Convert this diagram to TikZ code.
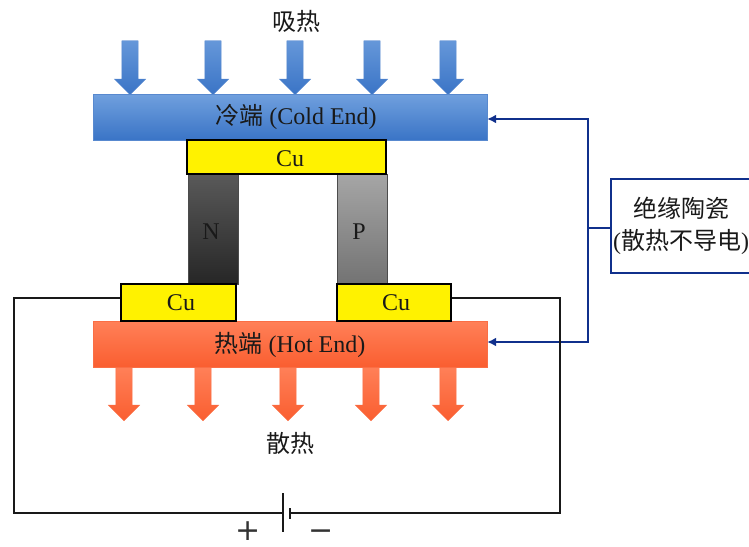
\documentclass[tikz,border=0pt]{standalone}
\usepackage{fontspec}
\usetikzlibrary{shapes.arrows,arrows.meta}
\setmainfont{Liberation Serif}
\newfontfamily\cjk{Noto Sans CJK SC}
\newfontfamily\signfont{DejaVu Sans}
\definecolor{coldtop}{RGB}{112,160,222}
\definecolor{coldbot}{RGB}{58,116,198}
\definecolor{hottop}{RGB}{255,128,88}
\definecolor{hotbot}{RGB}{250,94,48}
\definecolor{navyline}{RGB}{16,48,140}
\definecolor{wirecol}{RGB}{25,25,25}
\tikzset{
    labeltext/.style={font=\fontsize{24}{32}\selectfont, text=black!90},
    signtext/.style={font=\signfont\fontsize{30}{30}\selectfont, text=black!80, inner sep=0, anchor=base},
    coldplate/.style={draw=coldbot!85!white, top color=coldtop, bottom color=coldbot,
        minimum width=394, minimum height=46, inner sep=0},
    hotplate/.style={draw=hotbot!90!white, top color=hottop, bottom color=hotbot,
        minimum width=394, minimum height=46, inner sep=0},
    cubox/.style={draw=black, line width=1.2, fill=yellow, inner sep=0},
    leg/.style={draw=black!70, line width=0.8, minimum width=50, minimum height=110, inner sep=0},
    heatarrow/.style={single arrow, shape border rotate=270, anchor=tip, inner xsep=8, inner ysep=0,
        single arrow head extend=7.5, single arrow tip angle=90, minimum height=54},
    coldarrow/.style={heatarrow, draw=coldbot!85!white, top color=coldtop!80!coldbot, bottom color=coldbot},
    hotarrow/.style={heatarrow, draw=hotbot!90!white, top color=hottop, bottom color=hotbot},
    wire/.style={draw=wirecol, line width=1.1},
    insulate/.style={draw=navyline, line width=1.6},
    insulatearrow/.style={insulate, -{Latex[length=9,width=9]}}
}
\begin{document}
\begin{tikzpicture}[x=1pt,y=-1pt]
        \useasboundingbox (0,0) rectangle (749,546);
        \foreach \name/\px in {a/130,b/213,c/295,d/372,e/448}
            \node[coldarrow] (cold\name) at (\px,95) {};
        \foreach \name/\px in {a/124,b/203,c/288,d/371,e/448}
            \node[hotarrow] (hot\name) at (\px,421) {};
        \node[coldplate] (coldend) at (290,117) {};
        \node[labeltext] (coldlabel) at (296,117) {{\cjk 冷端} (Cold End)};
        \node[hotplate] (hotend) at (290,344) {};
        \node[labeltext] (hotlabel) at (290,345) {{\cjk 热端} (Hot End)};
        \node[leg, top color=black!65, bottom color=black!85] (legn) at (213,229) {};
        \node[leg, top color=black!35, bottom color=black!55] (legp) at (362,229) {};
        \node[labeltext] (nlabel) at (211,232) {N};
        \node[labeltext] (plabel) at (359,232) {P};
        \node[cubox, minimum width=199, minimum height=34] (cutop) at (286.5,157) {};
        \node[labeltext] (cutoplabel) at (290,159) {Cu};
        \node[cubox, minimum width=115, minimum height=37] (culeft) at (178.5,302.5) {};
        \node[labeltext] (culeftlabel) at (181,303) {Cu};
        \node[cubox, minimum width=114, minimum height=37] (curight) at (394,302.5) {};
        \node[labeltext] (curightlabel) at (396,303) {Cu};
        \node[labeltext] (absorb) at (296,21) {\cjk 吸热};
        \node[labeltext] (release) at (290,443) {\cjk 散热};
        \node[insulate, labeltext, draw, align=center, minimum width=140, minimum height=94, inner sep=0] (note) at (681,226)
            {{\cjk 绝缘陶瓷}\\({\cjk 散热不导电})};
        \coordinate (trunk) at (588,228);
        \coordinate (cornertop) at (588,119);
        \coordinate (cornerbot) at (588,342);
        \coordinate (wireleft) at (14,298);
        \coordinate (wireright) at (560,298);
        \coordinate (posplate) at (283,513);
        \coordinate (negplate) at (290,513);
        \coordinate (battleft) at (14,513);
        \coordinate (battright) at (560,513);
        \draw[insulate] (note.west |- trunk) -- (trunk);
        \draw[insulatearrow] (trunk) -- (cornertop) -- (coldend.east |- cornertop);
        \draw[insulatearrow] (trunk) -- (cornerbot) -- (hotend.east |- cornerbot);
        \draw[wire] (culeft.west |- wireleft) -- (wireleft) -- (battleft) -- (posplate);
        \draw[wire] (curight.east |- wireright) -- (wireright) -- (battright) -- (negplate);
        \draw[wire] ([yshift=20]posplate) -- ([yshift=-19]posplate);
        \draw[wire, line width=1.6] ([yshift=5]negplate) -- ([yshift=-6]negplate);
        \node[signtext] (plus) at (248,540) {+};
        \node[signtext] (minus) at (321,540) {−};
    \end{tikzpicture}
\end{document}
